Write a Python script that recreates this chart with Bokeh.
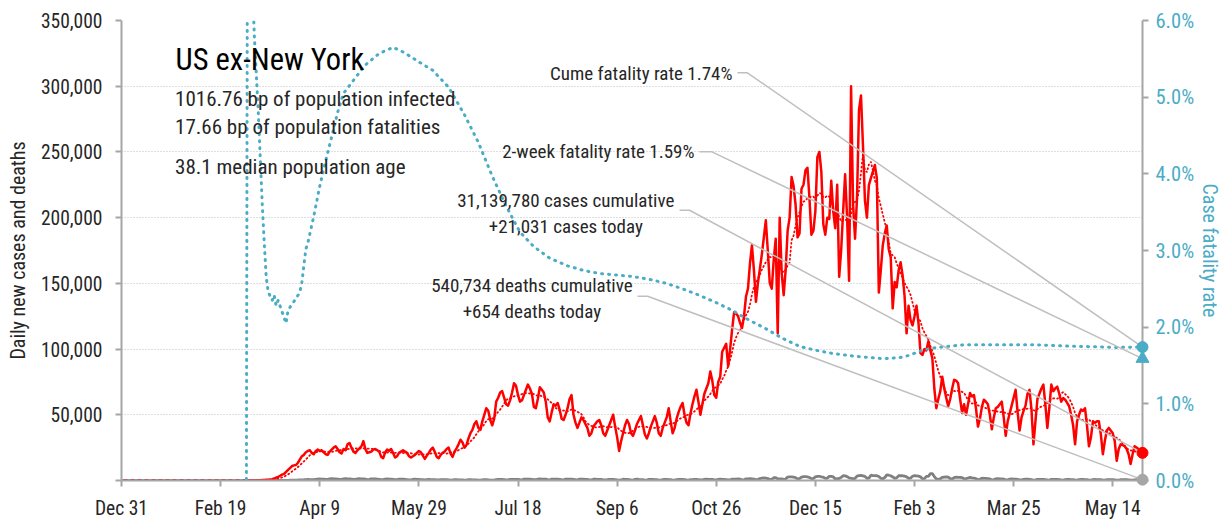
import numpy as np
from bokeh.plotting import figure
from bokeh.models import (Range1d, LinearAxis, FixedTicker, NumeralTickFormatter,
                          PrintfTickFormatter, Label)
from bokeh.embed import file_html
from bokeh.resources import INLINE

FONT = "Roboto Condensed"
RED = "#FF0000"
TEAL = "#4BACC6"
DGRAY = "#808080"
LGRAY = "#A6A6A6"
CALLOUT = "#BFBFBF"
TXT = "#262626"

# ---------------- data (day 0 = 2019-12-31) ----------------
# daily new cases, thousands, one list per month
cases_2019_12 = [0]
cases_2020_01 = [0] * 31
cases_2020_02 = [0] * 29
cases_2020_03 = [0.01, 0.01, 0.02, 0.02, 0.03, 0.05, 0.08, 0.1, 0.12, 0.2,
                 0.3, 0.4, 0.5, 0.6, 0.8, 1.0, 1.5, 2.2, 2.8, 3.6,
                 4.5, 5.0, 6.5, 8.0, 9.5, 11.0, 11.5, 11.8, 13.5, 16.0, 18.5]
cases_2020_04 = [19.5, 21.5, 22.5, 23, 21, 20, 22.5, 23.5, 22.5, 23,
                 21.5, 20, 19.5, 22, 23.5, 25, 26, 24, 21.5, 20.5,
                 24, 23, 27.5, 28.5, 25, 22, 21, 23, 24.5, 26]
cases_2020_05 = [30, 24, 21, 21.5, 22, 23.5, 24, 23, 22, 18,
                 17, 21.5, 23.5, 22.5, 24, 21, 17.5, 18.5, 21, 22,
                 23, 22, 21, 18.5, 17.5, 18.5, 19.5, 21, 22.5, 21.5, 19]
cases_2020_06 = [16.5, 19, 21, 23.5, 25, 22, 18, 17, 19.5, 21,
                 22, 24, 25, 20.5, 18, 22, 24.5, 27.5, 31, 29,
                 25, 27, 32, 36, 38.5, 43, 45, 40, 38.5, 45]
cases_2020_07 = [50, 55, 53, 46, 42, 47, 60, 63, 67, 68,
                 63, 58, 57, 61, 67, 74, 72, 65, 60, 61,
                 65, 69, 73, 70, 66, 56, 55, 62, 71, 69, 67]
cases_2020_08 = [60, 48, 45, 52, 58, 57, 59, 54, 47, 46,
                 50, 55, 62, 65, 50, 44, 40, 44, 48, 46,
                 43, 40, 34, 36, 41, 43, 45, 46, 42, 36, 34]
cases_2020_09 = [38, 42, 46, 50, 41, 33, 22.5, 30, 36, 42,
                 46, 43, 36, 34, 38, 43, 46, 49, 42, 35,
                 32, 36, 41, 45, 49, 44, 36, 34, 40, 44]
cases_2020_10 = [48, 55, 45, 36, 40, 47, 52, 56, 59, 50,
                 44, 42, 51, 58, 64, 69, 60, 50, 58, 66,
                 70, 74, 83, 76, 65, 63, 75, 79, 98, 101, 104]
cases_2020_11 = [87, 100, 115, 128, 127, 125, 120, 116, 125, 140,
                 146, 165, 179, 160, 136, 150, 161, 172, 185, 198,
                 175, 150, 146, 168, 184, 112, 200, 158, 141, 160]
cases_2020_12 = [190, 200, 231, 224, 210, 185, 188, 222, 225, 236,
                 238, 215, 187, 190, 205, 246, 250, 235, 195, 187,
                 200, 199, 228, 205, 192, 225, 155, 175, 205, 233, 200]
cases_2021_01 = [152, 300, 210, 184, 215, 282, 293, 255, 213, 200,
                 225, 230, 235, 240, 230, 143, 160, 179, 188, 194,
                 176, 170, 131, 151, 147, 160, 166, 156, 140, 112, 133]
cases_2021_02 = [122, 118, 125, 133, 120, 97, 95.5, 100, 99, 106,
                 99, 93, 70, 55, 62, 68, 79, 70, 63, 56.5,
                 62, 70, 76.6, 76, 74, 62, 51.4, 58]
cases_2021_03 = [50, 58, 66.5, 64, 65, 55, 41, 47, 56, 61.5,
                 60, 58, 50, 39, 48, 55, 56, 58, 60, 48,
                 34, 45, 51, 57, 63, 69, 52, 38, 48, 53, 57]
cases_2021_04 = [66, 69, 54, 27.5, 45, 62, 66, 70, 73, 58,
                 40, 55, 73, 68, 70, 71.5, 66, 60, 62.7, 61.5,
                 59, 56.5, 50, 42, 27.5, 45, 50, 54, 53, 55]
cases_2021_05 = [42, 26, 33, 45, 44, 45, 45, 35, 20, 30,
                 38, 40, 38, 36, 30, 15, 24, 27.5, 27, 26,
                 24, 20, 12.5, 20, 26, 25, 24, 22.5, 21.031]

# daily deaths, hundreds, one list per month
deaths_2019_12 = [0]
deaths_2020_01 = [0] * 31
deaths_2020_02 = [0] * 29
deaths_2020_03 = [0, 0, 0, 0, 0, 0, 0, 0, 0, 0,
                  0, 0, 0, 0, 0.1, 0.2, 0.3, 0.4, 0.5, 0.6,
                  0.8, 1, 1.2, 1.5, 2, 2.5, 3, 3.5, 3.8, 4.5, 5.5]
deaths_2020_04 = [6, 7, 8, 7, 6, 7, 9, 11, 12, 11, 10, 9, 8, 12, 14, 13, 12, 10, 8, 9,
                  13, 14, 13, 12, 10, 8, 9, 13, 14, 13]
deaths_2020_05 = [12, 10, 7, 8, 12, 13, 12, 11, 9, 6, 7, 11, 12, 11, 10, 8, 6, 7, 10, 11,
                  10, 9, 7, 5, 5, 8, 10, 9, 8, 7, 6]
deaths_2020_06 = [5, 7, 8, 7, 7, 6, 4, 4, 6, 7, 6, 6, 5, 3, 4, 6, 6, 5, 5, 4,
                  3, 3, 6, 6, 5, 5, 4, 3, 3, 5]
deaths_2020_07 = [6, 6, 5, 3, 2, 3, 7, 8, 8, 8, 7, 5, 4, 8, 9, 9, 9, 8, 6, 5,
                  10, 11, 10, 10, 9, 7, 6, 11, 12, 11, 11]
deaths_2020_08 = [10, 6, 5, 10, 11, 10, 10, 9, 6, 5, 10, 11, 10, 10, 9, 6, 5, 10, 11, 10,
                  9, 8, 5, 4, 10, 10, 9, 9, 8, 5, 4]
deaths_2020_09 = [6, 9, 9, 8, 7, 4, 3, 4, 10, 9, 8, 7, 4, 3, 9, 10, 8, 7, 6, 3,
                  3, 8, 9, 8, 7, 6, 3, 3, 7, 8]
deaths_2020_10 = [8, 7, 6, 3, 3, 6, 8, 8, 8, 7, 4, 3, 6, 7, 9, 8, 7, 4, 4, 8,
                  10, 9, 8, 8, 4, 4, 9, 10, 9, 8, 7]
deaths_2020_11 = [4, 5, 10, 11, 11, 12, 10, 5, 6, 13, 13, 14, 13, 11, 6, 7, 15, 18, 19, 18,
                  15, 9, 9, 21, 22, 12, 13, 12, 8, 11]
deaths_2020_12 = [26, 27, 28, 25, 22, 12, 14, 26, 30, 29, 28, 23, 14, 15, 28, 32, 32, 27, 25, 16,
                  18, 31, 32, 28, 12, 14, 15, 24, 36, 35, 30]
deaths_2021_01 = [20, 17, 12, 16, 34, 37, 39, 35, 31, 17, 18, 40, 37, 37, 36, 30, 17, 14, 22, 43,
                  40, 36, 27, 17, 20, 36, 37, 36, 33, 28, 16]
deaths_2021_02 = [18, 32, 37, 35, 33, 28, 13, 14, 31, 31, 52, 52, 30, 12, 9, 12, 24, 26, 28, 25,
                  14, 10, 22, 26, 24, 24, 21, 13]
deaths_2021_03 = [14, 19, 24, 20, 18, 14, 7, 9, 18, 16, 16, 15, 12, 5, 7, 12, 15, 13, 13, 10,
                  5, 5, 10, 12, 11, 11, 9, 5, 5, 9, 10]
deaths_2021_04 = [10, 9, 6, 2, 5, 9, 8, 8, 8, 7, 4, 3, 8, 9, 8, 8, 7, 4, 3, 7,
                  8, 8, 7, 7, 4, 3, 7, 8, 8, 7]
deaths_2021_05 = [6, 3, 3, 7, 8, 7, 7, 6, 3, 2, 6, 7, 7, 6, 5, 3, 2, 6, 7, 6,
                  6, 5, 3, 2, 5, 6, 6, 6, 6.54]

# cumulative case fatality rate (%), read at selected days
cfr_days = [0, 63, 64, 65, 66, 67, 68, 69, 70, 71, 72, 73, 74, 76, 77, 78, 79, 81, 83, 84,
            86, 88, 90, 91, 93, 94, 97, 100, 103, 106, 109, 112, 117, 123, 130, 137, 142,
            150, 157, 165, 173, 180, 187, 194, 201, 208, 216, 225, 233, 241, 250, 258, 267,
            275, 283, 292, 300, 308, 316, 325, 333, 342, 350, 358, 370, 384, 392, 397, 404,
            410, 417, 425, 435, 445, 460, 470, 480, 490, 500, 510, 515]
cfr_pct = [0, 0, 14.0, 9.0, 6.5, 5.8, 5.3, 4.8, 4.2, 3.6, 3.1, 2.65, 2.46, 2.35, 2.42, 2.28,
           2.35, 2.2, 2.05, 2.22, 2.3, 2.37, 2.46, 2.59, 3.02, 3.1, 3.45, 3.84, 4.17, 4.48,
           4.8, 5.05, 5.22, 5.42, 5.57, 5.65, 5.59, 5.46, 5.35, 5.13, 4.77, 4.41, 3.97, 3.58,
           3.24, 3.05, 2.9, 2.8, 2.74, 2.7, 2.68, 2.66, 2.62, 2.57, 2.5, 2.41, 2.32, 2.22,
           2.1, 1.98, 1.86, 1.75, 1.7, 1.66, 1.62, 1.59, 1.6, 1.63, 1.7, 1.73, 1.75, 1.77,
           1.77, 1.77, 1.77, 1.76, 1.75, 1.745, 1.735, 1.74, 1.74]

cume_cfr = 1.74
two_week_cfr = 1.59
cases_cumulative = 31139780
cases_today = 21031
deaths_cumulative = 540734
deaths_today = 654
bp_infected = 1016.76
bp_fatalities = 17.66
median_age = 38.1

x_tick_days = [0, 50, 100, 150, 200, 250, 300, 350, 400, 450, 500]
x_tick_labels = ["Dec 31", "Feb 19", "Apr 9", "May 29", "Jul 18", "Sep 6",
                 "Oct 26", "Dec 15", "Feb 3", "Mar 25", "May 14"]
y_ticks = [0, 50000, 100000, 150000, 200000, 250000, 300000, 350000]
cfr_ticks = [0, 1, 2, 3, 4, 5, 6]

# ---------------- assemble ----------------
month_lengths = [1, 31, 29, 31, 30, 31, 30, 31, 31, 30, 31, 30, 31, 31, 28, 31, 30, 29]
case_months = [cases_2019_12, cases_2020_01, cases_2020_02, cases_2020_03, cases_2020_04,
               cases_2020_05, cases_2020_06, cases_2020_07, cases_2020_08, cases_2020_09,
               cases_2020_10, cases_2020_11, cases_2020_12, cases_2021_01, cases_2021_02,
               cases_2021_03, cases_2021_04, cases_2021_05]
death_months = [deaths_2019_12, deaths_2020_01, deaths_2020_02, deaths_2020_03, deaths_2020_04,
                deaths_2020_05, deaths_2020_06, deaths_2020_07, deaths_2020_08, deaths_2020_09,
                deaths_2020_10, deaths_2020_11, deaths_2020_12, deaths_2021_01, deaths_2021_02,
                deaths_2021_03, deaths_2021_04, deaths_2021_05]
for m, n in zip(case_months, month_lengths):
    assert len(m) == n, (len(m), n)
for m, n in zip(death_months, month_lengths):
    assert len(m) == n, (len(m), n)
assert len(cfr_days) == len(cfr_pct)

cases = np.concatenate([np.array(m, float) for m in case_months]) * 1000
deaths = np.concatenate([np.array(m, float) for m in death_months]) * 100
days = np.arange(len(cases))
avg7 = np.convolve(cases, np.ones(7) / 7, mode="full")[:len(cases)]
avg7[:6] = np.nan

last = days[-1]
Y_MAX = y_ticks[-1]
C_MAX = cfr_ticks[-1]
to_left = Y_MAX / C_MAX
FRAME_H = 463
UNITS_PER_PX = Y_MAX / FRAME_H

p = figure(width=1225, height=522, x_range=Range1d(0, last), y_range=Range1d(0, Y_MAX),
           output_backend="svg", toolbar_location=None,
           min_border_left=121, min_border_right=82, min_border_top=20, min_border_bottom=39)
p.extra_y_ranges = {"cfr": Range1d(0, C_MAX)}
p.outline_line_color = None
p.background_fill_color = "white"
p.border_fill_color = "white"

def style_axis(ax):
    ax.axis_line_color = LGRAY
    ax.axis_line_width = 2
    ax.major_tick_line_color = LGRAY
    ax.major_tick_line_width = 2
    ax.major_tick_out = 6
    ax.major_tick_in = 0
    ax.minor_tick_line_color = None
    ax.major_label_text_font = FONT
    ax.major_label_text_font_size = "19.5px"
    ax.major_label_text_color = TXT
    ax.axis_label_text_font = FONT
    ax.axis_label_text_font_size = "20px"
    ax.axis_label_text_font_style = "normal"
    ax.axis_label_text_color = TXT

xa = p.xaxis[0]
style_axis(xa)
xa.ticker = FixedTicker(ticks=x_tick_days)
xa.major_label_overrides = {d: l for d, l in zip(x_tick_days, x_tick_labels)}
xa.major_label_standoff = 10

ya = p.yaxis[0]
style_axis(ya)
ya.ticker = FixedTicker(ticks=y_ticks)
ya.formatter = NumeralTickFormatter(format="0,0")
ya.major_label_overrides = {0: ""}
ya.major_label_standoff = 13
ya.axis_label = "Daily new cases and deaths"
ya.axis_label_standoff = 8

ra = LinearAxis(y_range_name="cfr", ticker=FixedTicker(ticks=cfr_ticks),
                formatter=PrintfTickFormatter(format="%.1f%%"),
                axis_label="Case fatality rate")
style_axis(ra)
ra.major_label_text_font_size = "20.5px"
ra.major_label_text_color = TEAL
ra.axis_label_text_color = TEAL
ra.major_label_standoff = 7
ra.axis_label_standoff = 1
p.add_layout(ra, "right")

p.xgrid.visible = False
p.ygrid.ticker = FixedTicker(ticks=y_ticks[1:])
p.ygrid.grid_line_color = CALLOUT
p.ygrid.grid_line_dash = "1 2"
p.ygrid.grid_line_width = 1

# series
p.line(days, deaths, line_color=DGRAY, line_width=2.8)
p.line(days, cases, line_color=RED, line_width=2.5, line_join="round")
p.line(days, avg7, line_color=RED, line_width=1.8, line_dash="1 3", line_cap="round")
p.line(cfr_days, cfr_pct, y_range_name="cfr", line_color=TEAL, line_width=3,
       line_dash="1 6", line_cap="round")

# call-out lines (label elbow -> last data point)
callouts = [
    ([310.7, 315.7, last], [310200, 310200, cume_cfr * to_left]),
    ([291.5, 297.6, last], [250200, 250200, two_week_cfr * to_left]),
    ([281.5, 286.5, last], [205600, 205600, cases[-1]]),
    ([260.3, 265.4, last], [140200, 140200, deaths[-1]]),
]
for xs, ys in callouts:
    p.line(xs, ys, line_color=CALLOUT, line_width=1.5)

# end markers
p.scatter([last], [cume_cfr], y_range_name="cfr", marker="circle", size=11,
          fill_color=TEAL, line_color=TEAL, level="overlay")
p.scatter([last], [two_week_cfr], y_range_name="cfr", marker="triangle", size=13,
          fill_color=TEAL, line_color=TEAL, level="overlay")
p.scatter([last], [cases[-1]], marker="circle", size=11,
          fill_color=RED, line_color=RED, level="overlay")
p.scatter([last], [deaths[-1]], marker="circle", size=11,
          fill_color=LGRAY, line_color=LGRAY, level="overlay")

def lab(x, y_base, text, size_px, align="left", color=TXT):
    # y_base is the glyph baseline; shift so the rendered baseline lands there
    y = y_base + 0.42 * size_px * UNITS_PER_PX
    p.add_layout(Label(x=x, y=y, text=text, text_font=FONT, text_font_size=f"{size_px}px",
                       text_align=align, text_baseline="alphabetic", text_color=color))

lab(27.3, 310700, "US ex-New York", 30.5, color="#000000")
lab(27.0, 283500, f"{bp_infected:.2f} bp of population infected", 21)
lab(27.0, 262000, f"{bp_fatalities:.2f} bp of population fatalities", 21)
lab(27.0, 231700, f"{median_age:.1f} median population age", 21)

lab(308.2, 303900, f"Cume fatality rate {cume_cfr:.2f}%", 19, "right")
lab(289.0, 244500, f"2-week fatality rate {two_week_cfr:.2f}%", 19, "right")
lab(224.1, 207100, f"{cases_cumulative:,} cases cumulative", 19, "center")
lab(224.1, 187500, f"+{cases_today:,} cases today", 19, "center")
lab(207.0, 142600, f"{deaths_cumulative:,} deaths cumulative", 19, "center")
lab(207.0, 122500, f"+{deaths_today:,} deaths today", 19, "center")

open("out.html", "w").write(file_html(p, INLINE))
